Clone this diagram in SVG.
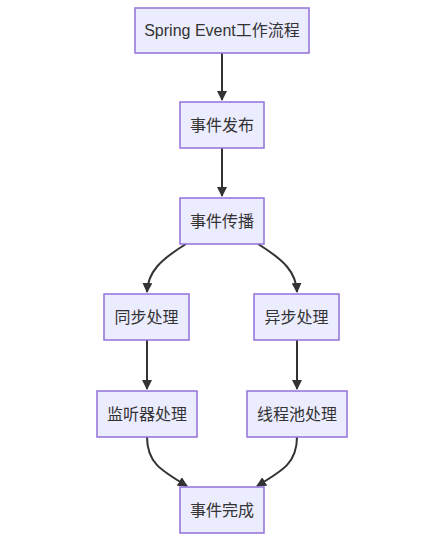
<svg xmlns="http://www.w3.org/2000/svg" width="445" height="555" viewBox="0 0 445 555">
<style>
.n rect{fill:#ECECFF;stroke:#9370DB;stroke-width:1.5}
.n text{font-family:"Liberation Sans","Noto Sans CJK SC",sans-serif;font-size:16px;fill:#333;text-anchor:middle;dominant-baseline:central}
.e path{fill:none;stroke:#333;stroke-width:2}
</style>
<defs>
<marker id="a" viewBox="0 0 10 10" refX="9" refY="5" markerWidth="10" markerHeight="10" markerUnits="userSpaceOnUse" orient="auto">
<path d="M0,0 L10,5 L0,10 z" fill="#333"/>
</marker>
</defs>
<rect width="445" height="555" fill="#fff"/>
<g class="e">
<path d="M222,53 L222,100" marker-end="url(#a)"/>
<path d="M222,148 L222,196" marker-end="url(#a)"/>
<path d="M186,244 C160,260 148,272 147,292" marker-end="url(#a)"/>
<path d="M258,244 C284,260 296,272 297,292" marker-end="url(#a)"/>
<path d="M147,340 L147,389" marker-end="url(#a)"/>
<path d="M297,340 L297,389" marker-end="url(#a)"/>
<path d="M147,437 C147,462 160,470 187,486" marker-end="url(#a)"/>
<path d="M297,437 C297,462 284,470 257,486" marker-end="url(#a)"/>
</g>
<g id="n1" class="n"><rect x="135" y="8" width="174" height="45"/><text x="222" y="30.5">Spring Event工作流程</text></g>
<g id="n2" class="n"><rect x="180" y="102" width="84" height="46"/><text x="222" y="125">事件发布</text></g>
<g id="n3" class="n"><rect x="180" y="198" width="84" height="46"/><text x="222" y="221">事件传播</text></g>
<g id="n4" class="n"><rect x="104" y="294" width="85" height="46"/><text x="146.5" y="317">同步处理</text></g>
<g id="n5" class="n"><rect x="254" y="294" width="85" height="46"/><text x="296.5" y="317">异步处理</text></g>
<g id="n6" class="n"><rect x="97" y="391" width="100" height="46"/><text x="147" y="414">监听器处理</text></g>
<g id="n7" class="n"><rect x="247" y="391" width="100" height="46"/><text x="297" y="414">线程池处理</text></g>
<g id="n8" class="n"><rect x="180" y="487" width="84" height="46"/><text x="222" y="510">事件完成</text></g>
</svg>
